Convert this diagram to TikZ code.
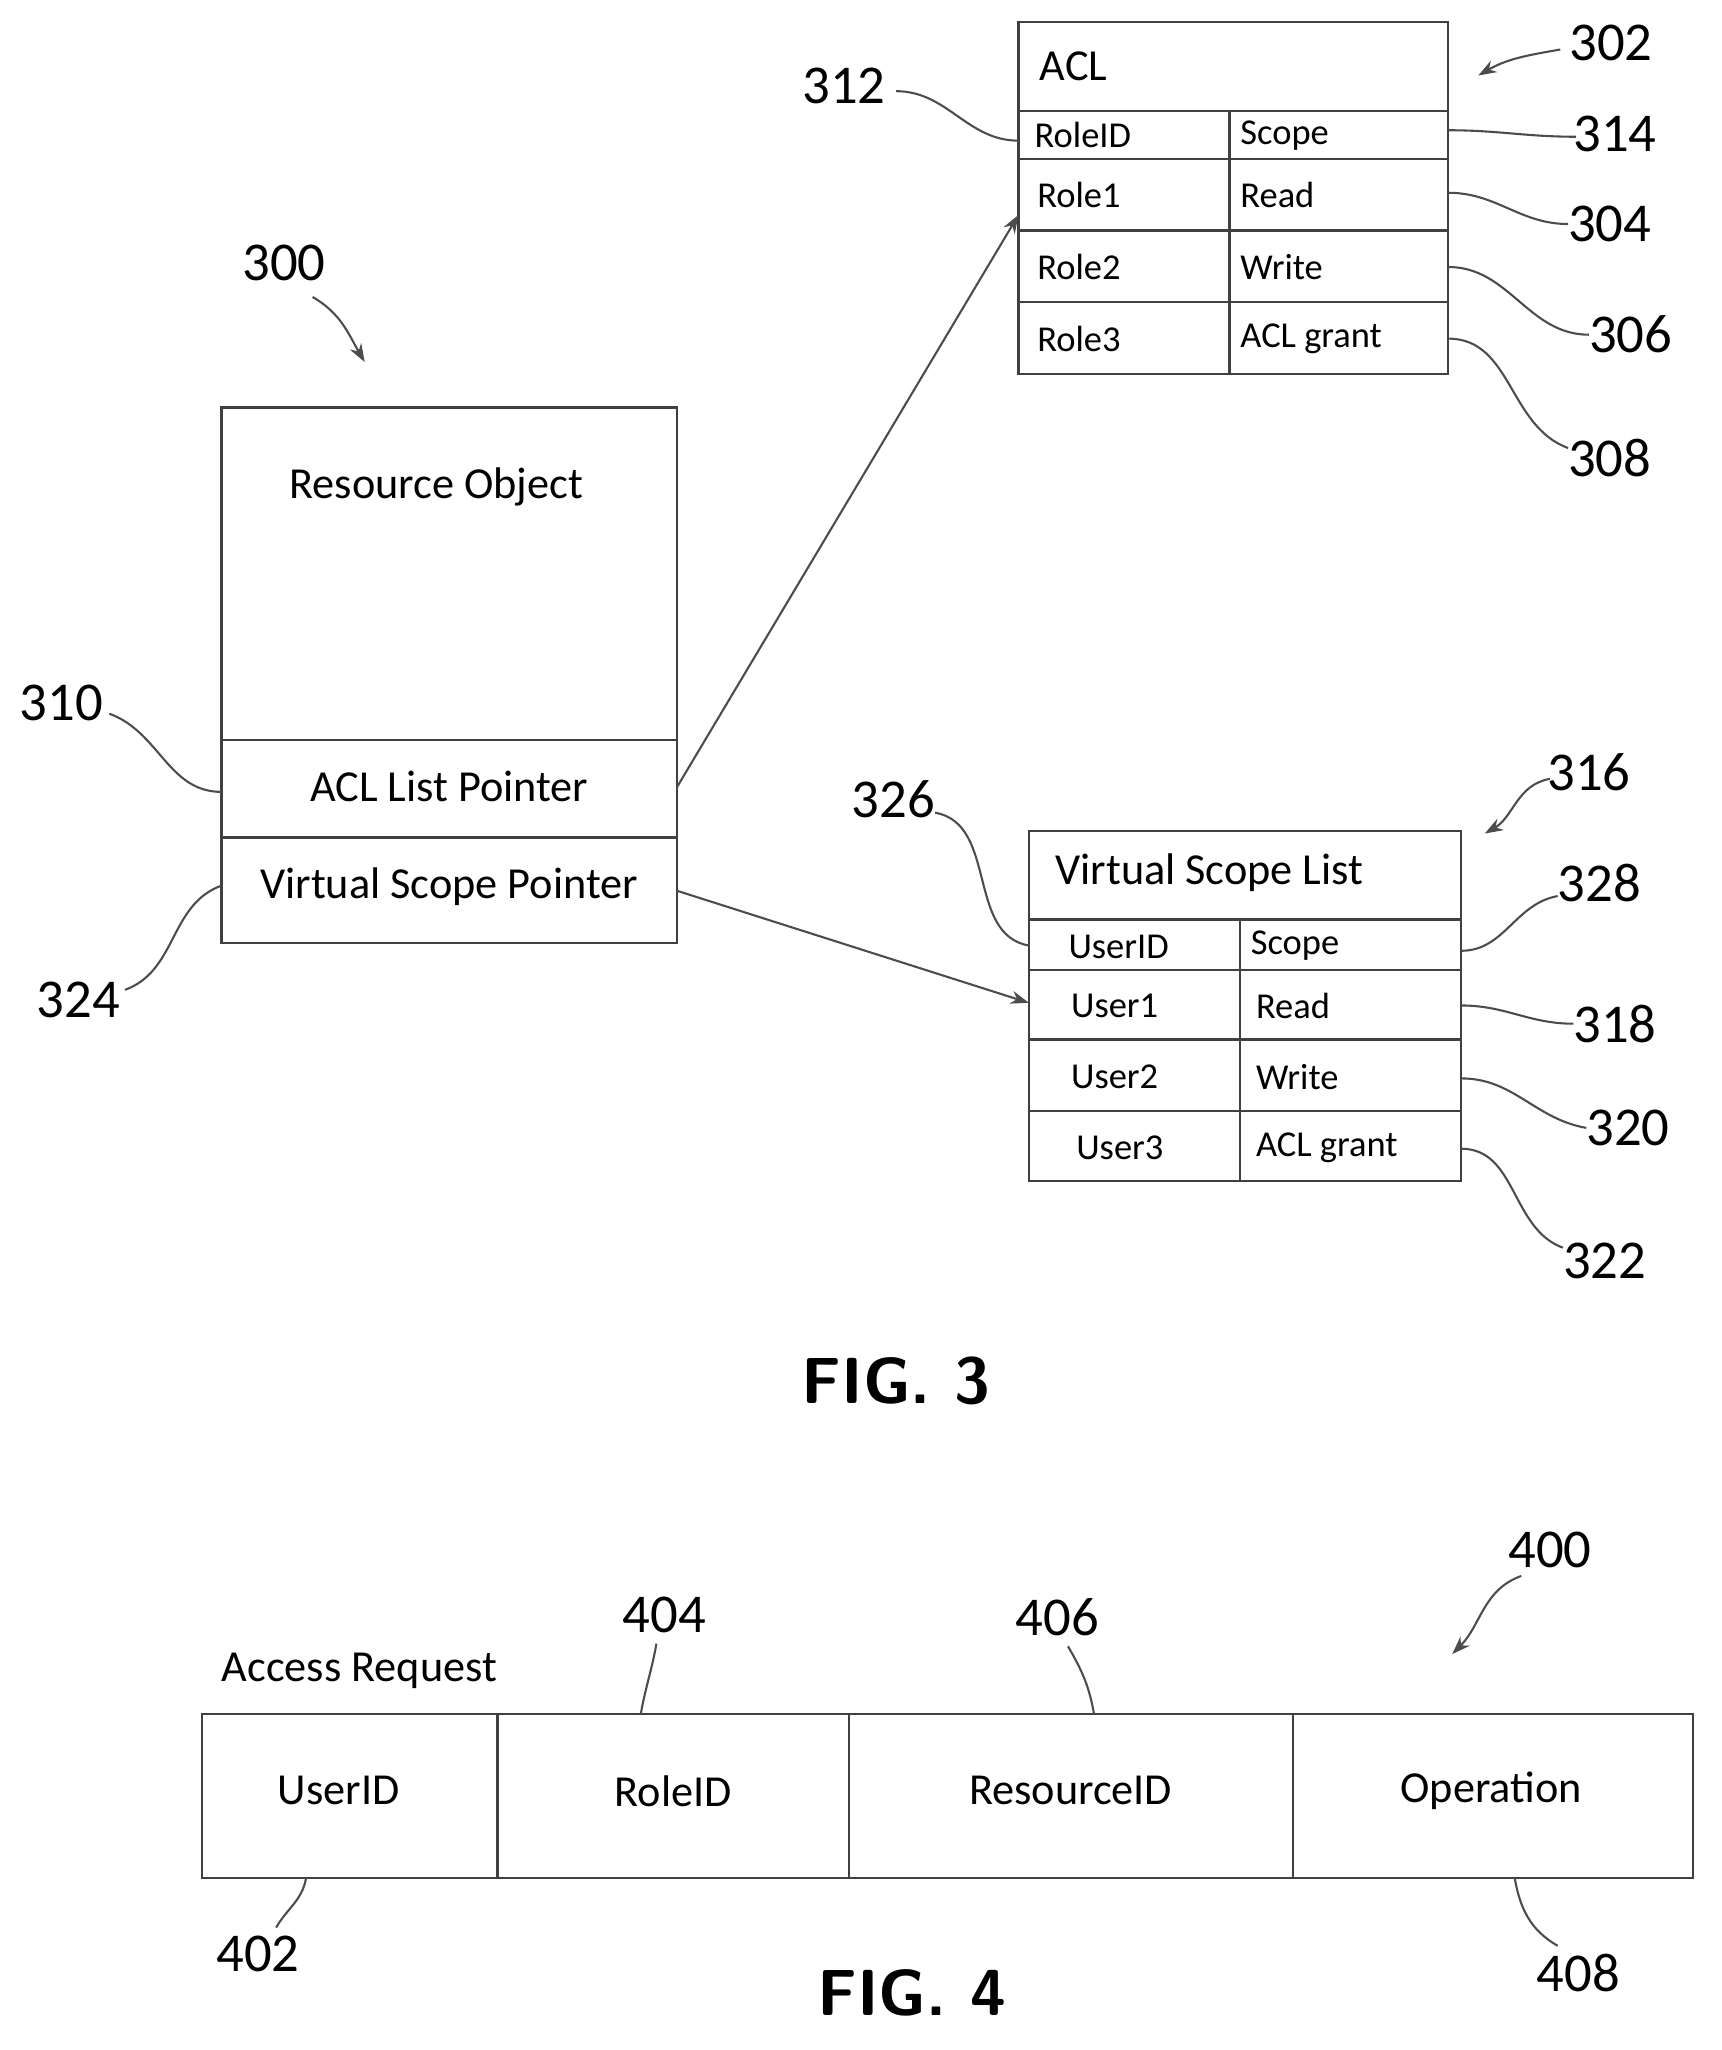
\documentclass[tikz,border=0pt]{standalone}
\usepackage{fontspec}
\setmainfont{Carlito}
\usetikzlibrary{arrows.meta}
\begin{document}
\begin{tikzpicture}[x=0.5pt,y=-0.5pt,
  box/.style={draw=black!75,line width=0.9pt},
  lead/.style={draw=black!70,line width=0.8pt},
  num/.style={font=\fontsize{21}{21}\selectfont,inner sep=0pt},
  txt/.style={font=\fontsize{17}{17}\selectfont,inner sep=0pt},
  cell/.style={font=\fontsize{14}{14}\selectfont,inner sep=0pt,anchor=west},
  arr/.style={lead,-{Stealth[length=7pt,width=5pt]}},
  fig/.style={font=\sffamily\bfseries\fontsize{25}{25}\selectfont,inner sep=0pt}]
\useasboundingbox (0,0) rectangle (1322,1574);
% ACL table
\draw[box] (782,17) rectangle (1112,287);
\foreach \y in {85,122,177,232} \draw[box] (782,\y) -- (1112,\y);
\draw[box] (944,85) -- (944,287);
\node[txt,anchor=west] (acl) at (798,51) {ACL};
\node[cell] (c1) at (794,104) {RoleID};
\node[cell] (c2) at (952,104) {Scope};
\node[cell] (c3) at (796,150) {Role1};
\node[cell] (c4) at (952,150) {Read};
\node[cell] (c5) at (796,205) {Role2};
\node[cell] (c6) at (952,205) {Write};
\node[cell] (c7) at (796,260) {Role3};
\node[cell] (c8) at (952,260) {ACL grant};
\coordinate (aclr) at (782,165);
% resource object
\draw[box] (170,313) rectangle (520,724);
\draw[box] (170,568) -- (520,568);
\draw[box] (170,643) -- (520,643);
\node[txt] (ro) at (335,374) {Resource Object};
\node[txt] (alp) at (345,604) {ACL List Pointer};
\node[txt] (vsp) at (345,681) {Virtual Scope Pointer};
\coordinate (alpe) at (520,604);
\coordinate (vspe) at (520,684);
% VSL
\draw[box] (790,638) rectangle (1122,907);
\foreach \y in {706,745,798,853} \draw[box] (790,\y) -- (1122,\y);
\draw[box] (952,706) -- (952,907);
\node[txt,anchor=west] (vsl) at (810,670) {Virtual Scope List};
\node[cell] (d1) at (820,727) {UserID};
\node[cell] (d2) at (960,726) {Scope};
\node[cell] (d3) at (822,772) {User1};
\node[cell] (d4) at (964,772) {Read};
\node[cell] (d5) at (822,827) {User2};
\node[cell] (d6) at (964,827) {Write};
\node[cell] (d7) at (826,881) {User3};
\node[cell] (d8) at (964,881) {ACL grant};
\coordinate (vsll) at (790,770);
% connectors
\draw[arr] (alpe) -- (aclr);
\draw[arr] (vspe) -- (vsll);
% labels fig3
\node[num] (n302) at (1237,33) {302};
\coordinate (a302) at (1135,58);
\draw[arr] (1198,38) to[out=190,in=30] (a302);
\node[num] (n312) at (648,66) {312};
\draw[lead] (688,70) to[out=0,in=180] (782,108);
\node[num] (n314) at (1240,103) {314};
\draw[lead] (1112,100) to[out=0,in=180] (1210,105);
\node[num] (n304) at (1236,172) {304};
\draw[lead] (1112,148) to[out=0,in=180] (1204,172);
\node[num] (n306) at (1252,257) {306};
\draw[lead] (1112,205) to[out=0,in=180] (1220,257);
\node[num] (n308) at (1236,352) {308};
\draw[lead] (1112,260) to[out=0,in=160] (1204,344);
\node[num] (n300) at (218,202) {300};
\draw[arr] (240,228) to[out=-30,in=120] (280,278);
\node[num] (n310) at (47,540) {310};
\draw[lead] (84,548) to[out=-20,in=180] (170,608);
\node[num] (n324) at (60,768) {324};
\draw[lead] (96,760) to[out=20,in=200] (170,680);
\node[num] (n316) at (1220,593) {316};
\draw[arr] (1190,598) to[out=190,in=30] (1140,640);
\node[num] (n326) at (686,614) {326};
\draw[lead] (718,624) to[out=-10,in=170] (790,726);
\node[num] (n328) at (1228,678) {328};
\draw[lead] (1122,730) to[out=0,in=190] (1196,688);
\node[num] (n318) at (1240,786) {318};
\draw[lead] (1122,772) to[out=0,in=180] (1208,786);
\node[num] (n320) at (1250,866) {320};
\draw[lead] (1122,828) to[out=0,in=170] (1218,866);
\node[num] (n322) at (1232,968) {322};
\draw[lead] (1122,882) to[out=0,in=160] (1200,958);
\node[fig] (f3) at (688,1060) {FIG. 3};
% fig 4
\draw[box] (155,1316) rectangle (1300,1442);
\foreach \x in {382,652,993} \draw[box] (\x,1316) -- (\x,1442);
\node[txt] (u) at (260,1375) {UserID};
\node[txt] (r) at (517,1375) {RoleID};
\node[txt] (rs) at (822,1375) {ResourceID};
\node[txt] (op) at (1145,1375) {Operation};
\node[txt] (ar) at (276,1283) {Access Request};
\node[num] (n404) at (510,1240) {404};
\draw[lead] (504,1262) to[out=-100,in=80] (492,1316);
\node[num] (n406) at (812,1242) {406};
\draw[lead] (820,1264) to[out=-60,in=100] (840,1316);
\node[num] (n400) at (1190,1190) {400};
\draw[arr] (1168,1210) to[out=200,in=45] (1115,1270);
\node[num] (n402) at (198,1500) {402};
\draw[lead] (235,1442) to[out=-100,in=60] (212,1480);
\node[num] (n408) at (1212,1515) {408};
\draw[lead] (1163,1442) to[out=-80,in=150] (1196,1494);
\node[fig] (f4) at (700,1530) {FIG. 4};
\end{tikzpicture}
\end{document}
